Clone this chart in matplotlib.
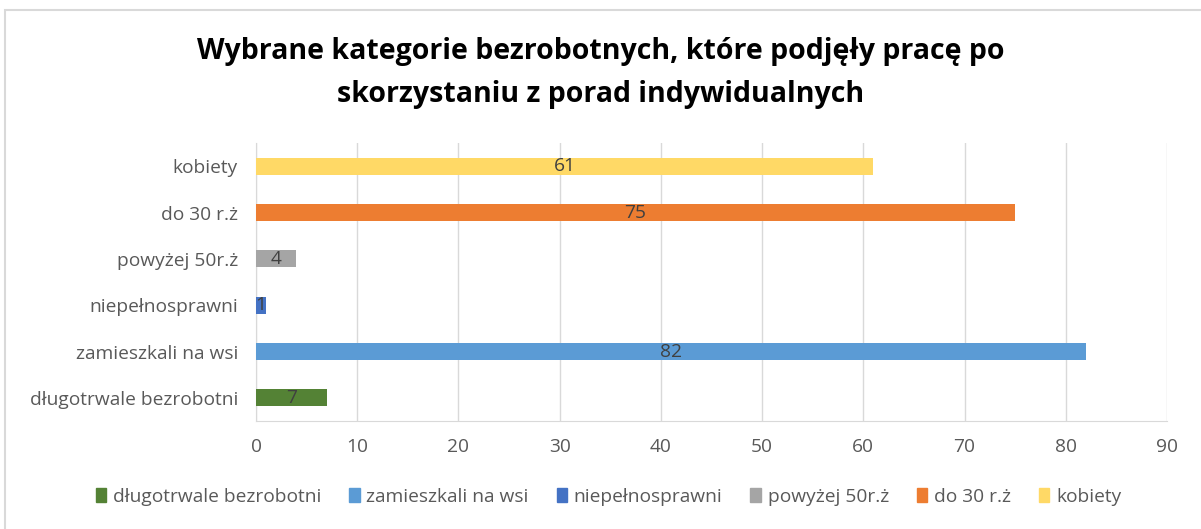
import matplotlib
matplotlib.use('Agg')
import matplotlib.pyplot as plt
from matplotlib.patches import Rectangle, Patch

categories = ['długotrwale bezrobotni', 'zamieszkali na wsi', 'niepełnosprawni',
              'powyżej 50r.ż', 'do 30 r.ż', 'kobiety']
values = [7, 82, 1, 4, 75, 61]
colors = ['#548235', '#5B9BD5', '#4472C4', '#A5A5A5', '#ED7D31', '#FFD966']
xticks = [0, 10, 20, 30, 40, 50, 60, 70, 80, 90]

plt.rcParams['font.family'] = ['Open Sans', 'DejaVu Sans']
fs = 13.8

W, H = 1201, 529
fig = plt.figure(figsize=(W / 100, H / 100), dpi=100)
ax = fig.add_axes([256 / W, 1 - 421 / H, (1167 - 256) / W, (421 - 143) / H])

# chart frame
fig.patches.append(Rectangle((5 / W, -0.1), 1.2, 1 - 10 / H + 0.1, transform=fig.transFigure,
                             fill=False, edgecolor='#D9D9D9', linewidth=1.5))

ypos = list(range(len(categories)))
ax.barh(ypos, values, height=0.37, color=colors, zorder=3)
for y, v in zip(ypos, values):
    ax.text(v / 2, y, str(v), ha='center', va='center', fontsize=fs,
            color='#404040', zorder=4)

ax.set_xlim(0, 90)
ax.set_ylim(-0.5, len(categories) - 0.5)
ax.set_xticks(xticks)
ax.set_yticks(ypos)
ax.set_yticklabels(categories)
ax.grid(axis='x', color='#D9D9D9', linewidth=1, zorder=0)
for s in ['top', 'right']:
    ax.spines[s].set_visible(False)
ax.spines['bottom'].set_color('#D9D9D9')
ax.spines['left'].set_color('#D9D9D9')
ax.tick_params(length=0, labelsize=fs, labelcolor='#595959')
ax.tick_params(axis='y', pad=13)
ax.tick_params(axis='x', pad=12)

fig.text(0.5, 1 - 73 / H, 'Wybrane kategorie bezrobotnych, które podjęły pracę po\nskorzystaniu z porad indywidualnych',
         ha='center', va='center', fontsize=20.5, fontweight='bold', color='black',
         linespacing=1.65)

handles = [Patch(color=c, label=l) for c, l in zip(colors, categories)]
fig.legend(handles=handles, loc='center', bbox_to_anchor=(0.5 + 8 / W, 1 - 497 / H), ncol=6,
           frameon=False, handlelength=0.55, handleheight=0.75, handletextpad=0.35,
           columnspacing=1.45, prop={'size': fs}, labelcolor='#595959')

fig.savefig('out.png', dpi=100)
plt.close(fig)
